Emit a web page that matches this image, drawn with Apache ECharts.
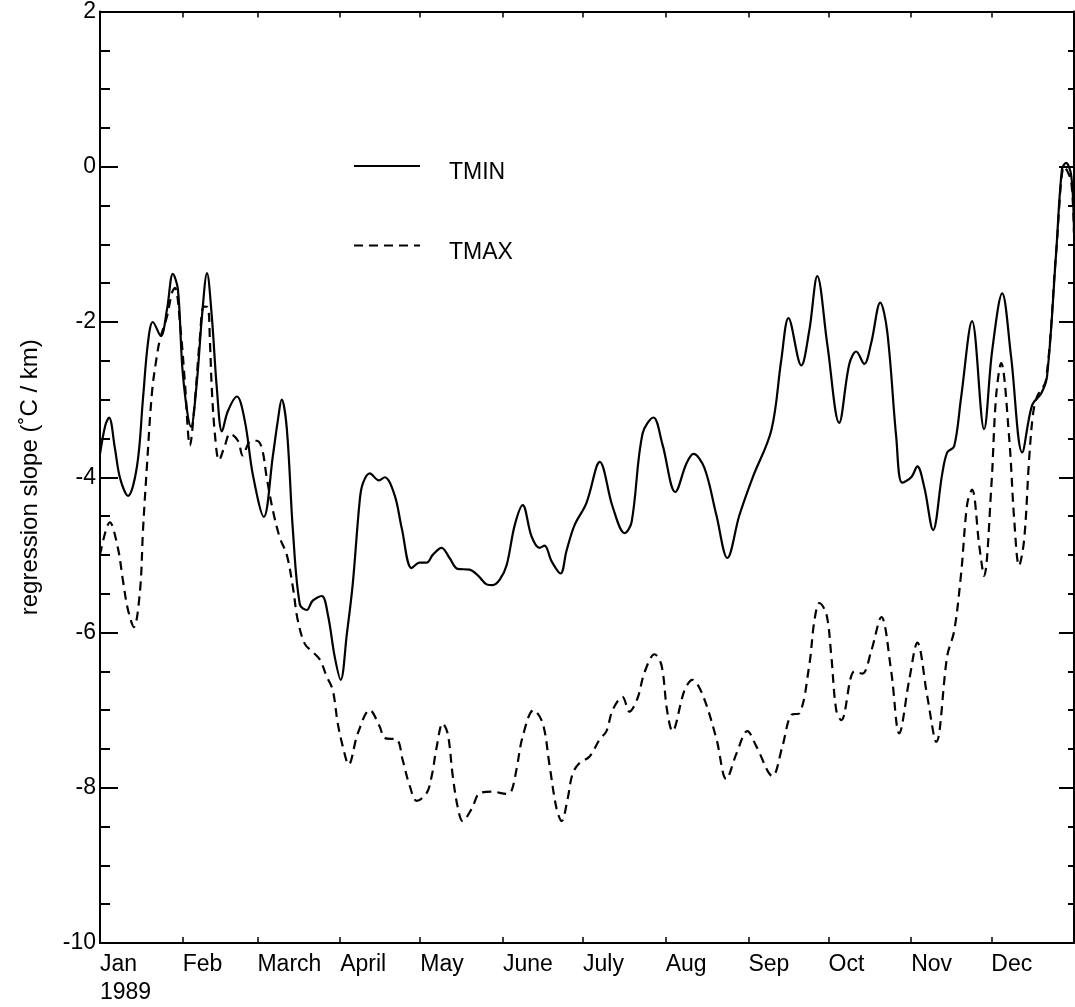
<!DOCTYPE html>
<html>
<head>
<meta charset="utf-8">
<script src="https://cdn.jsdelivr.net/npm/echarts@6/dist/echarts.min.js"></script>
<style>
html,body{margin:0;padding:0;background:#fff;}
#chart{width:1075px;height:1007px;}
</style>
</head>
<body>
<div id="chart"></div>
<script>
// Month starts (day of year) and tick labels
const monthStarts = [0, 31, 59, 90, 120, 151, 181, 212, 243, 273, 304, 334];
const monthLabels = ['Jan\n1989', 'Feb', 'March', 'April', 'May', 'June', 'July', 'Aug', 'Sep', 'Oct', 'Nov', 'Dec'];

// TMIN: day of year and regression slope (°C / km)
const tminDays = [0,2,3.4,5.6,7.5,10.5,13.9,16.1,18,19.8,22.8,25.1,27.3,29.2,31.1,34.1,36.3,38.2,40.1,41.9,43.8,45.7,47.9,51.3,54.3,57.3,61.4,64.8,66.6,68.1,70,72.3,74.9,77.5,79.7,83.1,85.4,88,90.2,92.5,94.7,97.3,98.5,101.1,104.5,106.7,110.4,113.1,116.8,119.8,122.4,124.7,128,131,134,138.5,141.5,144.9,147.1,149.8,152.4,155.4,158.4,161.7,164.7,166.6,169.2,172.6,174.8,177.8,182.3,186.1,187.2,192.1,196.6,199.2,203.3,207.4,210.8,215.6,219.8,222.4,226.5,231,235.1,239.6,244.5,251.6,255.3,258,262.8,265.8,268.8,272.6,277,280.8,283.4,286.4,289,292.4,295,298.4,300.6,304,306.3,308.9,312.2,315.6,317.5,320.1,322.7,326.8,331.3,334.3,338.1,341.4,345.6,349.3,352.7,354.9,358.3,360.5,362,364,365];
const tminValues = [-3.70,-3.33,-3.23,-3.63,-4.01,-4.24,-3.85,-2.99,-2.26,-2.0,-2.18,-1.84,-1.38,-1.58,-2.69,-3.35,-2.77,-1.93,-1.37,-1.93,-2.86,-3.41,-3.15,-2.96,-3.28,-3.97,-4.51,-3.72,-3.28,-3.0,-3.37,-4.69,-5.64,-5.71,-5.59,-5.53,-5.77,-6.32,-6.61,-6.02,-5.38,-4.31,-4.08,-3.95,-4.04,-4.0,-4.23,-4.66,-5.17,-5.1,-5.1,-5.0,-4.91,-5.04,-5.18,-5.19,-5.26,-5.38,-5.39,-5.32,-5.13,-4.62,-4.36,-4.76,-4.91,-4.88,-5.08,-5.24,-4.95,-4.62,-4.33,-3.86,-3.8,-4.38,-4.72,-4.58,-3.44,-3.23,-3.58,-4.19,-3.82,-3.7,-3.88,-4.49,-5.04,-4.49,-4.01,-3.39,-2.49,-1.95,-2.56,-2.11,-1.41,-2.3,-3.3,-2.54,-2.38,-2.54,-2.27,-1.75,-2.12,-3.49,-4.07,-4.0,-3.86,-4.13,-4.68,-3.96,-3.68,-3.6,-2.97,-1.99,-3.38,-2.38,-1.63,-2.44,-3.68,-3.07,-2.92,-2.7,-1.11,-0.03,0.05,-0.12,-0.85];

// TMAX: day of year and regression slope (°C / km)
const tmaxDays = [0,3.7,6.7,8.6,10.5,12.7,15,16.1,17.6,19.5,21.3,22.5,25.1,27,28.1,30.3,31.8,33.7,35.6,37.4,38.9,40.4,41.2,41.9,43.1,44.6,46.8,48.7,51.7,53.5,56.2,58.8,60.7,62.5,64.8,67.4,70,72.3,74.1,76.8,79.7,82.4,85,87.2,89.1,91,93.2,96.6,101.1,104.8,106.7,111.2,113.4,116.1,118.7,122.4,124.3,126.2,128.4,130.3,132.2,134,135.9,139.3,142.3,147.1,152.4,154.2,156.1,158.4,162.5,165.9,168.5,171.1,173,175.2,177.1,179.7,183.4,187.2,189.8,192.1,195.8,198.4,201.4,204,207.8,210.4,212.5,214.5,219,222,225.8,231,234.7,238.5,242.6,246,252,255.7,259.1,262.1,265.8,267.7,269.6,272.2,274,275.9,277.8,282.7,285.7,289,292.8,296.5,299.5,303.3,306.3,310,313.4,317.5,320.1,322.7,325,326.8,329.5,331.3,334,335.8,337.7,340.7,342.6,344.4,346.3,348.2,349.7,351.2,354.5,358.3,361.3,362.4,364,365];
const tmaxValues = [-5.0,-4.58,-4.91,-5.33,-5.71,-5.93,-5.46,-4.69,-3.85,-2.9,-2.44,-2.22,-1.93,-1.62,-1.56,-2.14,-2.77,-3.59,-2.99,-2.22,-1.8,-1.81,-2.26,-2.86,-3.46,-3.78,-3.59,-3.44,-3.53,-3.72,-3.54,-3.53,-3.63,-4.01,-4.43,-4.78,-5.0,-5.42,-5.84,-6.15,-6.25,-6.35,-6.57,-6.74,-7.17,-7.47,-7.7,-7.3,-7.0,-7.21,-7.36,-7.38,-7.64,-7.98,-8.17,-8.07,-7.85,-7.47,-7.17,-7.3,-7.85,-8.24,-8.43,-8.27,-8.07,-8.05,-8.08,-8.04,-7.76,-7.34,-7.0,-7.17,-7.72,-8.27,-8.43,-8.15,-7.82,-7.68,-7.6,-7.38,-7.27,-7.0,-6.83,-7.02,-6.85,-6.52,-6.28,-6.42,-7.0,-7.27,-6.75,-6.61,-6.8,-7.37,-7.89,-7.56,-7.27,-7.47,-7.85,-7.47,-7.06,-7.04,-6.42,-5.85,-5.62,-5.76,-6.28,-7.0,-7.13,-6.5,-6.53,-6.24,-5.8,-6.5,-7.3,-6.6,-6.13,-6.82,-7.41,-6.3,-5.98,-5.24,-4.34,-4.16,-4.88,-5.27,-4.13,-2.96,-2.53,-3.49,-4.55,-5.14,-4.81,-3.76,-3.17,-2.96,-2.75,-1.11,0.0,-0.05,-0.2,-0.85];

const FONT = '"Liberation Sans", Arial, Helvetica, sans-serif';
const zip = (a, b) => a.map((d, i) => [d, b[i]]);

const chart = echarts.init(document.getElementById('chart'), null, {renderer: 'canvas'});
const axisLineStyle = {color: '#000', width: 2};

chart.setOption({
  backgroundColor: '#fff',
  animation: false,
  grid: {left: 100, right: 1, top: 10, bottom: 59, containLabel: false},
  legend: {
    orient: 'vertical',
    left: 348,
    top: 153,
    itemWidth: 66,
    itemHeight: 20,
    itemGap: 53,
    selectedMode: false,
    itemStyle: {color: 'rgba(0,0,0,0)', borderColor: 'rgba(0,0,0,0)', borderWidth: 0, opacity: 0},
    lineStyle: {color: '#000', width: 2},
    formatter: '{t|{name}}',
    textStyle: {
      fontFamily: FONT, fontSize: 23, color: '#000',
      rich: {t: {fontFamily: FONT, fontSize: 23, color: '#000', padding: [14, 0, 0, 24]}}
    },
    data: ['TMIN', 'TMAX']
  },
  xAxis: [
    {
      type: 'value', position: 'bottom', min: 0, max: 365,
      axisLine: {show: true, onZero: false, lineStyle: axisLineStyle},
      axisTick: {show: true, inside: true, length: 6, customValues: monthStarts, lineStyle: {color: '#000', width: 1.5}},
      axisLabel: {
        show: true, customValues: monthStarts, align: 'left', margin: 8,
        fontFamily: FONT, fontSize: 23, color: '#000', lineHeight: 28,
        formatter: v => monthLabels[monthStarts.indexOf(Math.round(v))] || ''
      },
      splitLine: {show: false}
    },
    {
      type: 'value', position: 'top', min: 0, max: 365,
      axisLine: {show: true, onZero: false, lineStyle: axisLineStyle},
      axisTick: {show: true, inside: true, length: 6, customValues: monthStarts, lineStyle: {color: '#000', width: 1.5}},
      axisLabel: {show: false},
      splitLine: {show: false}
    }
  ],
  yAxis: [
    {
      type: 'value', position: 'left', min: -10, max: 2, interval: 2,
      name: 'regression slope (˚C / km)', nameLocation: 'middle', nameGap: 58, nameRotate: 90,
      nameTextStyle: {fontFamily: FONT, fontSize: 24, color: '#000'},
      axisLine: {show: true, onZero: false, lineStyle: axisLineStyle},
      axisTick: {show: true, inside: true, length: 18, lineStyle: {color: '#000', width: 2}},
      minorTick: {show: true, splitNumber: 4, length: 10, lineStyle: {color: '#000', width: 2}},
      axisLabel: {fontFamily: FONT, fontSize: 23, color: '#000', margin: 4},
      splitLine: {show: false},
      minorSplitLine: {show: false}
    },
    {
      type: 'value', position: 'right', min: -10, max: 2, interval: 2,
      axisLine: {show: true, onZero: false, lineStyle: axisLineStyle},
      axisTick: {show: true, inside: true, length: 15, lineStyle: {color: '#000', width: 2}},
      minorTick: {show: true, splitNumber: 4, length: 6, lineStyle: {color: '#000', width: 2}},
      axisLabel: {show: false},
      splitLine: {show: false},
      minorSplitLine: {show: false}
    }
  ],
  series: [
    {
      name: 'TMIN', type: 'line', xAxisIndex: 0, yAxisIndex: 0,
      data: zip(tminDays, tminValues),
      symbol: 'none', smooth: 0.35,
      lineStyle: {color: '#000', width: 2.2, type: 'solid'},
      itemStyle: {color: '#000'}
    },
    {
      name: 'TMAX', type: 'line', xAxisIndex: 0, yAxisIndex: 0,
      data: zip(tmaxDays, tmaxValues),
      symbol: 'none', smooth: 0.35,
      lineStyle: {color: '#000', width: 2.2, type: [9, 6]},
      itemStyle: {color: '#000'}
    }
  ]
});
</script>
</body>
</html>
